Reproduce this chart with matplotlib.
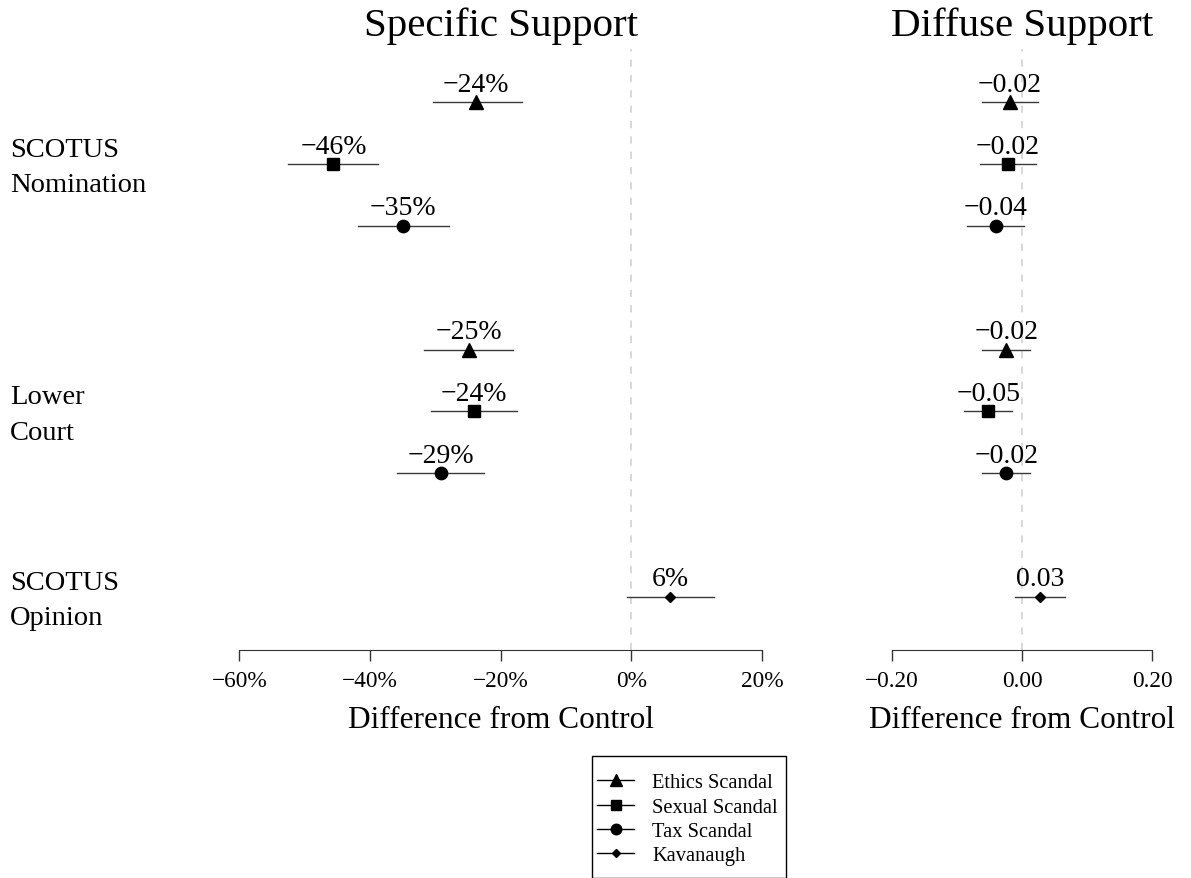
import matplotlib.pyplot as plt
from matplotlib.lines import Line2D
from matplotlib.patches import Rectangle

plt.rcParams['font.family'] = ['Liberation Serif', 'DejaVu Serif']

# rows from the top: 0-2 SCOTUS nomination, 4-6 lower court, 8 SCOTUS opinion
rows = [0, 1, 2, 4, 5, 6, 8]
treatment = ["Ethics Scandal", "Sexual Scandal", "Tax Scandal",
             "Ethics Scandal", "Sexual Scandal", "Tax Scandal", "Kavanaugh"]

# specific support, % difference from control
spec_est = [-23.8, -45.6, -34.9, -24.9, -24.1, -29.2, 5.9]
spec_lo = [-30.4, -52.5, -41.8, -31.7, -30.7, -35.8, -0.6]
spec_hi = [-16.7, -38.8, -27.9, -18.1, -17.5, -22.5, 12.6]

# diffuse support, difference from control
diff_est = [-0.019, -0.022, -0.040, -0.024, -0.052, -0.024, 0.028]
diff_lo = [-0.061, -0.064, -0.084, -0.062, -0.090, -0.062, -0.011]
diff_hi = [0.025, 0.022, 0.003, 0.013, -0.016, 0.012, 0.066]

groups = ["SCOTUS\nNomination", "Lower\nCourt", "SCOTUS\nOpinion"]
group_rows = [1, 5, 8]

legend_labels = ["Ethics Scandal", "Sexual Scandal", "Tax Scandal", "Kavanaugh"]
MARKERS = {"Ethics Scandal": ("^", 10), "Sexual Scandal": ("s", 8.6),
           "Tax Scandal": ("o", 8.9), "Kavanaugh": ("D", 4.6)}

W, H = 1191, 879
fig = plt.figure(figsize=(W / 100, H / 100), dpi=100)


def px_axes(x0, x1, y_top, y_bot):
    return fig.add_axes([x0 / W, 1 - y_bot / H, (x1 - x0) / W, (y_bot - y_top) / H])


def panel(ax, est, lo, hi, xlim, ticks, ticklabels, fmt, title):
    ax.set_xlim(*xlim)
    ax.set_ylim(8.86, -0.86)
    ax.axvline(0, color="#d6d6d6", lw=1.3, dashes=[4, 4.5], zorder=0)
    for r, t, e, l, h in zip(rows, treatment, est, lo, hi):
        m, ms = MARKERS[t]
        ax.plot([l, h], [r, r], color="#3a3a3a", lw=1.0)
        ax.plot(e, r, marker=m, ms=ms, color="black", ls="none")
        ax.annotate(fmt(e), (e, r), xytext=(0, 8.2), textcoords="offset points",
                    ha="center", va="baseline", fontsize=20)
    for s in ["top", "left", "right"]:
        ax.spines[s].set_visible(False)
    ax.spines["bottom"].set_bounds(ticks[0], ticks[-1])
    ax.spines["bottom"].set_color("#333333")
    ax.set_xticks(ticks)
    ax.set_xticklabels(ticklabels)
    ax.tick_params(axis="x", length=7.6, width=1.0, pad=6.5, labelsize=16.8,
                   color="#333333")
    ax.set_yticks([])
    ax.patch.set_visible(False)
    bb = ax.get_position()
    cx = (bb.x0 + bb.x1) / 2
    fig.text(cx, 1 - 36 / H, title, ha="center", va="baseline", fontsize=29.5)
    fig.text(cx, 1 - 728 / H, "Difference from Control", ha="center",
             va="baseline", fontsize=22.5)


ax1 = px_axes(218.4, 782.9, 50, 651)
panel(ax1, spec_est, spec_lo, spec_hi, (-63.2, 23.2), [-60, -40, -20, 0, 20],
      ["\u221260%", "\u221240%", "\u221220%", "0%", "20%"],
      lambda v: f"{round(v)}%".replace("-", "\u2212"), "Specific Support")

ax2 = px_axes(881.6, 1162.4, 50, 651)
panel(ax2, diff_est, diff_lo, diff_hi, (-0.216, 0.216), [-0.2, 0.0, 0.2],
      ["\u22120.20", "0.00", "0.20"],
      lambda v: f"{v:.2f}".replace("-", "\u2212"), "Diffuse Support")

# group labels in the left margin
for g, r in zip(groups, group_rows):
    first, second = g.split("\n")
    ax1.annotate(first, (10 / W, r), xycoords=("figure fraction", "data"),
                 xytext=(0, 5.9), textcoords="offset points", va="baseline",
                 ha="left", fontsize=20.5)
    ax1.annotate(second, (10 / W, r), xycoords=("figure fraction", "data"),
                 xytext=(0, -19.6), textcoords="offset points", va="baseline",
                 ha="left", fontsize=20.5)

# legend
handles = [Line2D([], [], color="black", lw=1.0, marker=MARKERS[t][0],
                  ms=MARKERS[t][1] * 0.85) for t in legend_labels]
fig.add_artist(Rectangle((592.3 / W, 0), (786 - 592.3) / W, 1 - 756.7 / H,
                         transform=fig.transFigure, fill=False,
                         edgecolor="black", lw=1.0))
fig.legend(handles, legend_labels, loc="upper left",
           bbox_to_anchor=(597 / W, 1 - 774 / H), frameon=False,
           fontsize=14.8, handlelength=1.8, handletextpad=0.9,
           labelspacing=0.24, borderpad=0, borderaxespad=0)

fig.savefig("out.png", dpi=100)
